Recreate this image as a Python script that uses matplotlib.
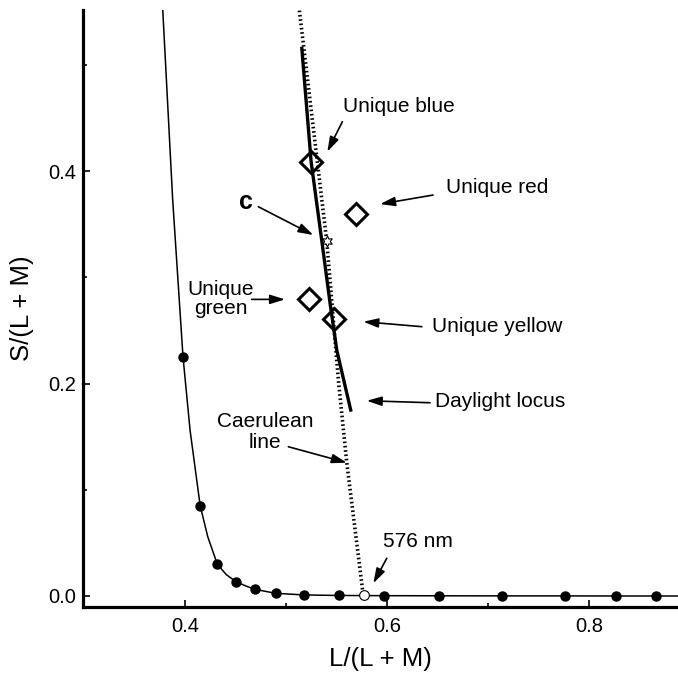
import matplotlib
matplotlib.use("Agg")
import matplotlib.pyplot as plt
import numpy as np

plt.rcParams['font.family'] = ['Liberation Sans', 'DejaVu Sans']

# spectrum locus: sample dots and the curve through them
locus_dot_x = [0.398, 0.415, 0.432, 0.4505, 0.469, 0.490, 0.518, 0.552, 0.597, 0.651, 0.714, 0.776, 0.827, 0.866]
locus_dot_y = [0.2252, 0.085, 0.0298, 0.0135, 0.0063, 0.0025, 0.0010, 0.0005, 0.0003, 0.0002, 0.0001, 0.0001, 0.0, 0.0]
locus_line_x = [0.378, 0.3878, 0.398, 0.405, 0.415, 0.4225, 0.432, 0.441, 0.4505, 0.46, 0.469, 0.490, 0.518,
                0.552, 0.597, 0.651, 0.714, 0.776, 0.827, 0.866, 0.888]
locus_line_y = [0.551, 0.3727, 0.2252, 0.156, 0.085, 0.0558, 0.0298, 0.020, 0.0135, 0.0095, 0.0063, 0.0025, 0.0010,
                0.0005, 0.0003, 0.0002, 0.0001, 0.0001, 0.0, 0.0, 0.0]

# 576 nm point
nm576_x = 0.577
nm576_y = 0.0005

# daylight locus
daylight_x = [0.5155, 0.5248, 0.5353, 0.5436, 0.5502, 0.5644]
daylight_y = [0.517, 0.409, 0.335, 0.2755, 0.2315, 0.1735]

# caerulean line
caerulean_x = [0.5132, 0.5403, 0.5518, 0.560, 0.5765]
caerulean_y = [0.551, 0.334, 0.2033, 0.1264, 0.0]

# unique hues: blue, red, green, yellow
hue_names = ["Unique blue", "Unique red", "Unique green", "Unique yellow"]
hue_x = [0.5248, 0.5693, 0.5228, 0.5478]
hue_y = [0.4088, 0.360, 0.280, 0.2607]

# point C
c_x = 0.5403
c_y = 0.334

fig = plt.figure(figsize=(6.78, 6.73), dpi=100)
ax = fig.add_axes([0.1224, 0.098, 0.8776, 0.887])

ax.plot(locus_line_x, locus_line_y, color='black', lw=1.1, zorder=2)
ax.plot(locus_dot_x, locus_dot_y, 'o', color='black', ms=6.5, zorder=3)
ax.plot(caerulean_x, caerulean_y, color='black', lw=2.6, linestyle=(0, (0.45, 0.75)), zorder=2)
ax.plot(daylight_x, daylight_y, color='black', lw=2.4, solid_capstyle='butt', zorder=3)
ax.plot([nm576_x], [nm576_y], 'o', mfc='white', mec='black', mew=0.8, ms=7, zorder=4)
ax.plot(hue_x, hue_y, 'D', mfc='none', mec='black', mew=2.2, ms=11.5, linestyle='none', zorder=4)
ax.plot([c_x], [c_y], marker=(6, 1, 0), mfc='white', mec='black', mew=0.8, ms=8, linestyle='none', zorder=5)

arrow = dict(arrowstyle='-|>,head_length=0.9,head_width=0.28', color='black', lw=1.2,
             shrinkA=0, shrinkB=0, mutation_scale=10)
fs = 15

ax.text(0.5562, 0.4558, "Unique blue", fontsize=fs, va='baseline', ha='left')
ax.annotate("", xy=(0.5409, 0.4182), xytext=(0.5557, 0.4464), arrowprops=arrow)

ax.text(0.6581, 0.3793, "Unique red", fontsize=fs, va='baseline', ha='left')
ax.annotate("", xy=(0.5931, 0.3689), xytext=(0.6455, 0.3774), arrowprops=arrow)

ax.text(0.4604, 0.3711, "c", fontsize=18, fontweight='bold', va='center', ha='center')
ax.annotate("", xy=(0.5270, 0.3398), xytext=(0.4726, 0.3664), arrowprops=arrow)

ax.text(0.4356, 0.2795, "Unique\ngreen", fontsize=fs, va='center', ha='center', linespacing=1.0)
ax.annotate("", xy=(0.499, 0.2792), xytext=(0.466, 0.2792), arrowprops=arrow)

ax.text(0.6449, 0.2488, "Unique yellow", fontsize=fs, va='baseline', ha='left')
ax.annotate("", xy=(0.5765, 0.2582), xytext=(0.6344, 0.2535), arrowprops=arrow)

ax.text(0.6475, 0.1782, "Daylight locus", fontsize=fs, va='baseline', ha='left')
ax.annotate("", xy=(0.5799, 0.1838), xytext=(0.6426, 0.1819), arrowprops=arrow)

ax.text(0.4792, 0.1544, "Caerulean\nline", fontsize=fs, va='center', ha='center', linespacing=1.1)
ax.annotate("", xy=(0.5601, 0.1255), xytext=(0.5023, 0.1405), arrowprops=arrow)

ax.text(0.5957, 0.0464, "576 nm", fontsize=fs, va='baseline', ha='left')
ax.annotate("", xy=(0.5864, 0.0120), xytext=(0.5997, 0.0355), arrowprops=arrow)

ax.set_xlim(0.299, 0.888)
ax.set_ylim(-0.0104, 0.5515)
ax.set_xticks([0.4, 0.6, 0.8])
ax.set_xticks([0.3, 0.5, 0.7], minor=True)
ax.set_yticks([0.0, 0.2, 0.4])
ax.set_yticks([0.1, 0.3, 0.5], minor=True)
ax.set_xticklabels(["0.4", "0.6", "0.8"])
ax.set_yticklabels(["0.0", "0.2", "0.4"])
ax.tick_params(which='major', direction='in', length=5, width=1.2, labelsize=14.5)
ax.tick_params(which='minor', direction='in', length=3, width=1.2)
ax.tick_params(axis='x', which='major', pad=7)
ax.tick_params(axis='y', which='major', pad=5)

for s in ['top', 'right']:
    ax.spines[s].set_visible(False)
for s in ['left', 'bottom']:
    ax.spines[s].set_linewidth(2.3)

ax.set_xlabel("L/(L + M)", fontsize=18.5, labelpad=8)
ax.set_ylabel("S/(L + M)", fontsize=18.5, labelpad=10)

fig.savefig("out.png", dpi=100)
